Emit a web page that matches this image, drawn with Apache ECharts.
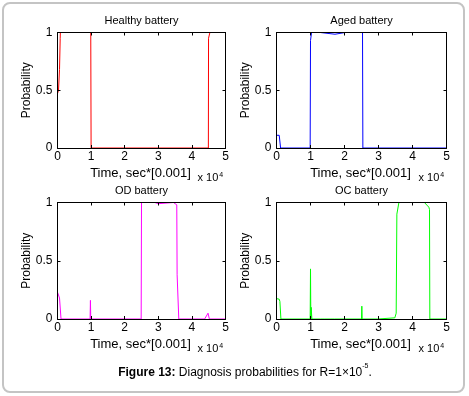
<!DOCTYPE html>
<html>
<head>
<meta charset="utf-8">
<script src="https://cdn.jsdelivr.net/npm/echarts@6/dist/echarts.min.js"></script>
<style>
html,body{margin:0;padding:0;background:#fff;}
#chart{width:469px;height:396px;}
</style>
</head>
<body>
<div id="chart"></div>
<script>
// ---- Data (time in units of 10^4 x 0.001 s) ----
var titles = ['Healthy battery', 'Aged battery', 'OD battery', 'OC battery'];
var xTicks = [0, 1, 2, 3, 4, 5];
var yTicks = [0, 0.5, 1];

var healthyT = [0, 0.03, 0.035, 0.06, 0.065, 0.08, 0.085, 0.99, 1.0, 4.49, 4.495, 4.53, 4.535, 5];
var healthyP = [0.47, 0.5, 0.5, 0.68, 0.68, 0.95, 1, 1, 0, 0, 0.95, 0.95, 1, 1];

var agedT = [0, 0.08, 0.1, 0.12, 0.99, 1.0, 1.02, 1.03, 1.29, 1.3, 1.72, 1.73, 2.02, 2.03, 2.05, 2.53, 2.54, 5];
var agedP = [0.11, 0.11, 0.1, 0, 0, 0.93, 0.93, 1, 1, 0.985, 0.985, 1, 1, 0.985, 1, 1, 0, 0];

var odT = [0, 0.05, 0.06, 0.1, 0.105, 0.97, 0.98, 0.99, 2.49, 2.5, 2.9, 2.95, 3.0, 3.05, 3.45, 3.55, 3.56, 3.6, 3.61, 4.38, 4.48, 4.52, 5];
var odP = [0.23, 0.22, 0.18, 0.17, 0, 0, 0.16, 0, 0, 1, 1, 0.985, 0.99, 1, 1, 0.98, 0.38, 0.38, 0, 0, 0.05, 0, 0];

var ocT = [0, 0.08, 0.1, 0.13, 0.99, 1.0, 1.01, 1.02, 1.03, 1.04, 1.3, 1.35, 1.4, 1.6, 1.65, 1.7, 2.5, 2.51, 2.52, 2.98, 3.0, 3.03, 3.48, 3.52, 3.54, 3.6, 4.35, 4.48, 4.5, 4.51, 5];
var ocP = [0.175, 0.17, 0.15, 0, 0, 0.43, 0, 0.1, 0.1, 0, 0, 0.012, 0, 0, 0.012, 0, 0, 0.11, 0, 0, 0.01, 0, 0.01, 0.05, 0.9, 1, 1, 0.96, 0.94, 0, 0];

var seriesT = [healthyT, agedT, odT, ocT];
var seriesP = [healthyP, agedP, odP, ocP];
var colors = ['#ff0000', '#0000ff', '#ff00ff', '#00ff00'];

// ---- Layout ----
var grids = [
  {left: 57.5, top: 32.5, width: 168, height: 115.5},
  {left: 276.5, top: 32.5, width: 170, height: 115.5},
  {left: 57.5, top: 202.5, width: 168, height: 116.5},
  {left: 276.5, top: 202.5, width: 170, height: 116.5}
];
var FONT = 'Liberation Sans, Arial, sans-serif';

var xAxes = [], yAxes = [], series = [], graphics = [];
grids.forEach(function (g, i) {
  var common = {
    gridIndex: i, type: 'value', z: 5,
    axisLine: {show: true, onZero: false, lineStyle: {color: '#000', width: 1}},
    axisTick: {show: true, inside: true, length: 3, lineStyle: {color: '#000'}},
    splitLine: {show: false}
  };
  xAxes.push(Object.assign({}, common, {
    position: 'bottom', min: xTicks[0], max: xTicks[xTicks.length - 1], interval: 1,
    axisLabel: {show: true, margin: 3, color: '#000', fontSize: 12, fontFamily: FONT}
  }));
  xAxes.push(Object.assign({}, common, {
    position: 'top', min: xTicks[0], max: xTicks[xTicks.length - 1], interval: 1,
    axisLabel: {show: false}
  }));
  yAxes.push(Object.assign({}, common, {
    position: 'left', min: yTicks[0], max: yTicks[yTicks.length - 1], interval: 0.5,
    axisLabel: {show: true, margin: 5, color: '#000', fontSize: 12, fontFamily: FONT,
      formatter: function (v) { return String(v); }}
  }));
  yAxes.push(Object.assign({}, common, {
    position: 'right', min: yTicks[0], max: yTicks[yTicks.length - 1], interval: 0.5,
    axisLabel: {show: false}
  }));
  var data = seriesT[i].map(function (t, k) { return [t, seriesP[i][k]]; });
  series.push({
    type: 'line', xAxisIndex: 2 * i, yAxisIndex: 2 * i, data: data,
    showSymbol: false, symbol: 'none', z: 2,
    lineStyle: {color: colors[i], width: 1}, itemStyle: {color: colors[i]}
  });
  var cx = g.left + g.width / 2;
  var bottom = Math.round(g.top + g.height);
  // subplot title
  graphics.push({type: 'text', x: cx, y: g.top - 11.5, style: {
    text: titles[i], font: '11px ' + FONT, fill: '#000', textAlign: 'center', textVerticalAlign: 'middle'}});
  // x axis name
  graphics.push({type: 'text', x: cx - 1, y: bottom + 25, style: {
    text: 'Time, sec*[0.001]', font: '13px ' + FONT, fill: '#000', textAlign: 'center', textVerticalAlign: 'middle'}});
  // x 10^4 multiplier
  graphics.push({type: 'text', x: g.left + g.width - 28, y: bottom + 30, style: {
    text: '{a|x 10}{s|4}', textVerticalAlign: 'middle',
    rich: {a: {font: '11px ' + FONT, fill: '#000'}, s: {font: '7px ' + FONT, fill: '#000', verticalAlign: 'top', padding: [0, 0, 5, 1]}}}});
  // y axis name
  graphics.push({type: 'text', x: g.left - 30.5, y: g.top + g.height / 2, rotation: Math.PI / 2, style: {
    text: 'Probability', font: '12px ' + FONT, fill: '#000', textAlign: 'center', textVerticalAlign: 'middle'}});
});

// frame and caption
graphics.push({type: 'rect', shape: {x: 3, y: 3, width: 461, height: 389, r: 7}, z: -1,
  style: {fill: 'none', stroke: '#c4c4c4', lineWidth: 2}});
graphics.push({type: 'text', x: 245, y: 371, style: {
  text: '{b|Figure 13:}{n| Diagnosis probabilities for R=1\u00d710}{s|-5}{n|.}',
  textAlign: 'center', textVerticalAlign: 'middle',
  rich: {
    b: {font: 'bold 12px ' + FONT, fill: '#000', lineHeight: 16, verticalAlign: 'bottom'},
    n: {font: '12px ' + FONT, fill: '#000', lineHeight: 16, verticalAlign: 'bottom'},
    s: {font: '7px ' + FONT, fill: '#000', lineHeight: 9, verticalAlign: 'top'}
  }}});

var chart = echarts.init(document.getElementById('chart'), null, {renderer: 'canvas'});
chart.setOption({
  animation: false,
  backgroundColor: '#fff',
  grid: grids.map(function (g) { return Object.assign({containLabel: false}, g); }),
  xAxis: xAxes,
  yAxis: yAxes,
  series: series,
  graphic: graphics
});
</script>
</body>
</html>
